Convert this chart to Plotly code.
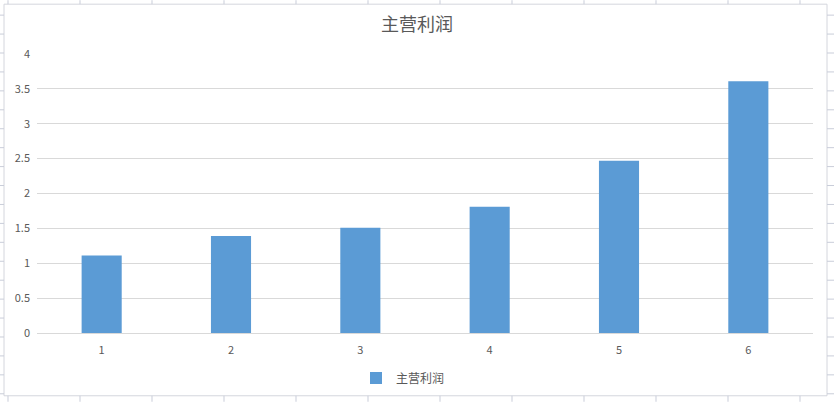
import plotly.graph_objects as go

# data
categories = ["1", "2", "3", "4", "5", "6"]
profit = [1.11, 1.39, 1.51, 1.81, 2.47, 3.61]
series_name = "主营利润"

W, H = 834, 403
L, R, T, B = 37, 21, 54, 69

fig = go.Figure()
fig.add_trace(go.Bar(x=categories, y=profit, name=series_name,
                     marker=dict(color="#5b9bd5", line=dict(width=0)),
                     showlegend=True))

# chart frame and the spreadsheet grid peeking around it
shapes = []
pw, ph = W - L - R, H - T - B
def px_x(v):
    return (v - L) / pw
def px_y(v):
    return (H - B - v) / ph
grid = "#c9cdd9"
shapes.append(dict(type="rect", xref="paper", yref="paper",
                   x0=px_x(4), x1=px_x(827), y0=px_y(397), y1=px_y(4),
                   line=dict(color="#d4d6dd", width=1)))
for cx in range(8, 834, 72):
    shapes.append(dict(type="line", xref="paper", yref="paper",
                       x0=px_x(cx), x1=px_x(cx), y0=px_y(0), y1=px_y(4),
                       line=dict(color=grid, width=1)))
    shapes.append(dict(type="line", xref="paper", yref="paper",
                       x0=px_x(cx), x1=px_x(cx), y0=px_y(397), y1=px_y(403),
                       line=dict(color=grid, width=1)))
for ry in range(15, 403, 19):
    shapes.append(dict(type="line", xref="paper", yref="paper",
                       x0=px_x(0), x1=px_x(4), y0=px_y(ry), y1=px_y(ry),
                       line=dict(color=grid, width=1)))
    shapes.append(dict(type="line", xref="paper", yref="paper",
                       x0=px_x(827), x1=px_x(834), y0=px_y(ry), y1=px_y(ry),
                       line=dict(color=grid, width=1)))

fig.update_layout(
    width=W, height=H,
    margin=dict(l=L, r=R, t=T, b=B),
    paper_bgcolor="white", plot_bgcolor="white",
    font=dict(family="Noto Sans CJK SC, Noto Sans, sans-serif", color="#595959", size=11),
    title=dict(text=series_name, x=0.5, xanchor="center", y=1 - 25 / H, yanchor="middle",
               font=dict(size=18, color="#595959")),
    bargap=0.69,
    xaxis=dict(type="category", showgrid=False, showline=True, linecolor="#d9d9d9",
               ticks="", ticklabelstandoff=7, tickfont=dict(size=11, color="#595959")),
    yaxis=dict(range=[0, 4], dtick=0.5, showgrid=True, gridcolor="#d9d9d9",
               zeroline=False, ticks="", showline=False, ticklabelstandoff=6,
               tickfont=dict(size=11, color="#595959")),
    legend=dict(orientation="h", x=px_x(356), xanchor="left", y=-44 / ph, yanchor="middle",
                font=dict(size=12, color="#595959"), itemwidth=30),
    shapes=shapes,
)

# drop the browser's default body margin so the figure sits at 0,0
fig.write_html("out.html", config={"displayModeBar": False},
               post_script="document.body.style.margin='0';")
